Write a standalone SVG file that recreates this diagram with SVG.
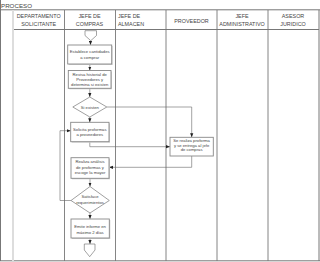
<svg xmlns="http://www.w3.org/2000/svg" width="320" height="262" viewBox="0 0 320 262">
<style>
.t{font-family:"Liberation Sans",Arial,sans-serif;fill:#444}
.h{font-size:5.4px;text-anchor:middle}
.b{font-size:4.2px;text-anchor:middle}
.frame{stroke:#777;stroke-width:1;fill:none}
.lane{stroke:#777;stroke-width:0.9}
.box{fill:#fff;stroke:#888;stroke-width:0.9}
.sh{fill:#d0d0d0}
.c{fill:none;stroke:#666;stroke-width:0.6}
</style>
<defs>
<marker id="a" viewBox="0 0 4 4" refX="4" refY="2" markerWidth="4" markerHeight="4" markerUnits="userSpaceOnUse" orient="auto">
<path d="M0,0.4 L4,2 L0,3.6 Z" fill="#222"/>
</marker>
</defs>
<rect width="320" height="262" fill="#fff"/>
<g id="frame">
<line class="frame" x1="0.5" y1="0" x2="0.5" y2="261"/>
<line class="frame" x1="319" y1="10" x2="319" y2="261" stroke="#aaa"/>
<line class="frame" x1="0" y1="9.8" x2="320" y2="9.8"/>
<line class="frame" x1="12" y1="29.5" x2="319" y2="29.5"/>
<line class="frame" x1="0" y1="260.8" x2="320" y2="260.8" stroke="#999"/>
<line x1="13" y1="10" x2="13" y2="261" stroke="#ddd" stroke-width="2"/>
<line class="lane" x1="64.5" y1="10" x2="64.5" y2="261"/>
<line class="lane" x1="115.5" y1="10" x2="115.5" y2="261"/>
<line class="lane" x1="166" y1="10" x2="166" y2="261"/>
<line class="lane" x1="217" y1="10" x2="217" y2="261"/>
<line class="lane" x1="268" y1="10" x2="268" y2="261"/>
<text class="t" x="1" y="7.8" font-size="6.2">PROCESO</text>
<text class="t h" x="38.7" y="18">DEPARTAMENTO</text>
<text class="t h" x="38.7" y="26">SOLICITANTE</text>
<text class="t h" x="89.5" y="18">JEFE DE</text>
<text class="t h" x="89.5" y="26">COMPRAS</text>
<text class="t" x="118" y="18" font-size="5.4">JEFE DE</text>
<text class="t" x="118" y="26" font-size="5.4">ALMACEN</text>
<text class="t h" x="191.5" y="22.6">PROVEEDOR</text>
<text class="t h" x="242" y="18">JEFE</text>
<text class="t h" x="242" y="26">ADMINISTRATIVO</text>
<text class="t h" x="293" y="18">ASESOR</text>
<text class="t h" x="293" y="26">JURIDICO</text>
</g>
<g id="connectors">
<path class="c" d="M90.5,40.7 V45" marker-end="url(#a)"/>
<path class="c" d="M89.8,64 V70.5" marker-end="url(#a)"/>
<path class="c" d="M89.8,88.5 V97" marker-end="url(#a)"/>
<path class="c" d="M89.8,117 V122.3" marker-end="url(#a)"/>
<path class="c" d="M106.8,107 H191.7 V137.3" stroke="#999" marker-end="url(#a)"/>
<path class="c" d="M89.8,141.7 V146.7 H170" marker-end="url(#a)"/>
<path class="c" d="M191.7,156 V167.3 H109" marker-end="url(#a)"/>
<path class="c" d="M90,178.3 V186.5" marker-end="url(#a)"/>
<path class="c" d="M71,200.5 H60 V130.7 H70.7" marker-end="url(#a)"/>
<path class="c" d="M90,213 V219" marker-end="url(#a)"/>
<path class="c" d="M90,238 V244" marker-end="url(#a)"/>
</g>
<g id="start">
<polygon points="85,30.7 96.5,30.7 96.5,35.5 90.75,40.7 85,35.5" fill="#fff" stroke="#666" stroke-width="0.6"/>
</g>
<g id="n1">
<rect class="sh" x="68.7" y="46" width="44" height="19"/>
<rect class="box" x="67.7" y="45" width="44" height="19"/>
<text class="t b" x="89.7" y="53.2">Establece cantidades</text>
<text class="t b" x="89.7" y="58.8">a comprar</text>
</g>
<g id="n2">
<rect class="sh" x="69.3" y="71.5" width="42.7" height="17.8"/>
<rect class="box" x="68.3" y="70.5" width="42.7" height="17.8"/>
<text class="t b" x="89.7" y="75.5">Revisa historial de</text>
<text class="t b" x="89.7" y="80.8">Proveedores y</text>
<text class="t b" x="89.7" y="85.8">determina si existen</text>
</g>
<g id="d1">
<polygon points="89.8,97 106.8,107 89.8,117 72.8,107" fill="#fff" stroke="#888" stroke-width="0.8"/>
<text class="t b" x="89.8" y="108.5">Si existen</text>
</g>
<g id="n3">
<rect class="sh" x="71.7" y="123.3" width="38.3" height="19.4"/>
<rect class="box" x="70.7" y="122.3" width="38.3" height="19.4"/>
<text class="t b" x="89.8" y="130.8">Solicita proformas</text>
<text class="t b" x="89.8" y="135.8">a proveedores</text>
</g>
<g id="n4">
<rect class="box" x="170" y="137.3" width="43.3" height="18.7" stroke="#999"/>
<text class="t b" x="191.6" y="142.2">Se realiza proforma</text>
<text class="t b" x="191.6" y="146.5">y se entrega al jefe</text>
<text class="t b" x="191.6" y="150.8">de compras</text>
</g>
<g id="n5">
<rect class="sh" x="72" y="158.7" width="38" height="20.6"/>
<rect class="box" x="71" y="157.7" width="38" height="20.6"/>
<text class="t b" x="90" y="163.2">Realiza análisis</text>
<text class="t b" x="90" y="168.8">de proformas y</text>
<text class="t b" x="90" y="174.2">escoge la mayor</text>
</g>
<g id="d2">
<polygon points="90,186.5 109.3,200.5 90,213 71,200.5" fill="#fff" stroke="#888" stroke-width="0.8"/>
<text class="t b" x="90" y="198.2">Satisface</text>
<text class="t b" x="90" y="204.2">requerimientos</text>
</g>
<g id="n6">
<rect class="sh" x="72" y="220" width="38.3" height="19"/>
<rect class="box" x="71" y="219" width="38.3" height="19"/>
<text class="t b" x="90.1" y="228.2">Emite informe en</text>
<text class="t b" x="90.1" y="234.2">máximo 2 días</text>
</g>
<g id="end">
<polygon points="84.3,244 95,244 95,250 89.7,256.7 84.3,250" fill="#fff" stroke="#666" stroke-width="0.6"/>
</g>
</svg>
